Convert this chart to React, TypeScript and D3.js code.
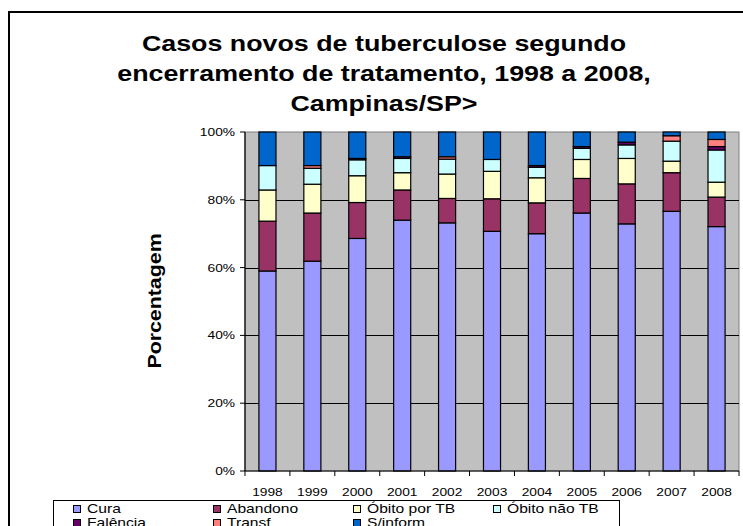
import React from 'react'
import * as d3 from 'd3'

const years = ['1998', '1999', '2000', '2001', '2002', '2003', '2004', '2005', '2006', '2007', '2008']

// percent of new cases per outcome, bottom to top of each stack
const cura = [59.0, 61.9, 68.6, 74.0, 73.2, 70.7, 70.0, 76.1, 72.9, 76.6, 72.1]
const abandono = [14.7, 14.2, 10.6, 8.9, 7.2, 9.6, 9.1, 10.2, 11.8, 11.4, 8.7]
const obitoPorTB = [9.2, 8.5, 7.9, 5.1, 7.2, 8.1, 7.4, 5.6, 7.5, 3.4, 4.4]
const obitoNaoTB = [7.2, 4.7, 4.7, 4.2, 4.4, 3.5, 3.1, 3.3, 4.0, 5.9, 9.5]
const falencia = [0, 0, 0.4, 0.5, 0, 0, 0.5, 0.5, 0.8, 0, 1.0]
const transf = [0, 0.8, 0, 0, 0.7, 0, 0, 0, 0, 1.6, 2.1]
const semInform = [9.9, 9.9, 7.8, 7.3, 7.3, 8.1, 9.9, 4.3, 3.0, 1.1, 2.2]

const seriesNames = ['Cura', 'Abandono', 'Óbito por TB', 'Óbito não TB', 'Falência', 'Transf', 'S/inform']
const seriesValues = [cura, abandono, obitoPorTB, obitoNaoTB, falencia, transf, semInform]
const seriesColors = ['#9999FF', '#993366', '#FFFFCC', '#CCFFFF', '#660066', '#FF8080', '#0066CC']

const yTicks = [0, 20, 40, 60, 80, 100]
const titleLines = ['Casos novos de tuberculose segundo', 'encerramento de tratamento, 1998 a 2008,', 'Campinas/SP>']

const FONT = '"Liberation Sans", Arial, Helvetica, sans-serif'
const SX = 1.25 // the original text is drawn a bit wide

export default function App () {
  const left = 245
  const right = 739
  const top = 132
  const bottom = 471

  const rows = years.map((year, i) => {
    const row: any = { year }
    seriesNames.forEach((name, k) => { row[name] = seriesValues[k][i] })
    return row
  })
  const stacked = d3.stack().keys(seriesNames)(rows)

  const x = d3.scaleBand().domain(years).range([left, right]).padding(0)
  const y = d3.scaleLinear().domain([0, 100]).range([bottom, top])
  const barW = x.bandwidth() * 0.38

  const boundaries = years.map(yr => x(yr) as number).concat([right])

  return (
    <svg width={743} height={526} style={{ position: 'absolute', left: 0, top: 0 }} fontFamily={FONT}>
      <rect x={0} y={0} width={743} height={526} fill='#fff' />
      <rect x={9} y={12} width={760} height={540} fill='none' stroke='#000' strokeWidth={2} />

      {titleLines.map((t, i) => (
        <text key={i} transform={`translate(384,${51 + i * 30}) scale(1.22,1)`} textAnchor='middle'
          fontSize={22} fontWeight='bold' fill='#000'>{t}</text>
      ))}

      {/* plot area */}
      <rect x={left} y={top} width={right - left} height={bottom - top} fill='#C0C0C0' stroke='#808080' strokeWidth={1} />
      {yTicks.filter(t => t > 0 && t < 100).map(t => (
        <line key={t} x1={left} x2={right} y1={Math.round(y(t)) + 0.5} y2={Math.round(y(t)) + 0.5} stroke='#000' strokeWidth={1} />
      ))}

      {stacked.map((s, k) => (
        <g key={s.key} fill={seriesColors[k]} stroke='#000' strokeWidth={1.2}>
          {s.filter(d => d[1] - d[0] > 0).map((d: any) => {
            const cx = (x(d.data.year) as number) + x.bandwidth() / 2
            return (
              <rect key={d.data.year} x={cx - barW / 2} y={y(d[1])} width={barW} height={y(d[0]) - y(d[1])} />
            )
          })}
        </g>
      ))}

      {/* axes */}
      <line x1={left} x2={left} y1={top} y2={bottom} stroke='#000' strokeWidth={1.2} />
      <line x1={left} x2={right} y1={bottom} y2={bottom} stroke='#000' strokeWidth={1.2} />
      {yTicks.map(t => (
        <g key={t}>
          <line x1={left - 5} x2={left} y1={y(t)} y2={y(t)} stroke='#000' strokeWidth={1} />
          <text transform={`translate(235,${y(t) + 4}) scale(${SX},1)`} textAnchor='end' fontSize={11} fill='#000'>{t}%</text>
        </g>
      ))}
      {boundaries.map((bx, i) => (
        <line key={i} x1={bx} x2={bx} y1={bottom} y2={bottom + 5} stroke='#000' strokeWidth={1} />
      ))}
      {years.map(yr => (
        <text key={yr} transform={`translate(${(x(yr) as number) + x.bandwidth() / 2},${496}) scale(${SX},1)`}
          textAnchor='middle' fontSize={11} fill='#000'>{yr}</text>
      ))}

      <text transform={`translate(161,301) rotate(-90) scale(1.22,1)`} textAnchor='middle' fontSize={17.5}
        fontWeight='bold' fill='#000'>Porcentagem</text>

      {/* legend */}
      <rect x={53.5} y={500.5} width={566} height={40} fill='#fff' stroke='#000' strokeWidth={1} />
      {seriesNames.map((name, k) => {
        const col = k % 4
        const row = Math.floor(k / 4)
        const lx = 73 + col * 140
        const ly = 513 + row * 14
        return (
          <g key={name}>
            <rect x={lx + 0.5} y={ly - 7.5} width={7} height={7} fill={seriesColors[k]} stroke='#000' strokeWidth={1} />
            <text transform={`translate(${lx + 14},${ly}) scale(1.25,1)`} fontSize={12.5} fill='#000'>{name}</text>
          </g>
        )
      })}
    </svg>
  )
}
